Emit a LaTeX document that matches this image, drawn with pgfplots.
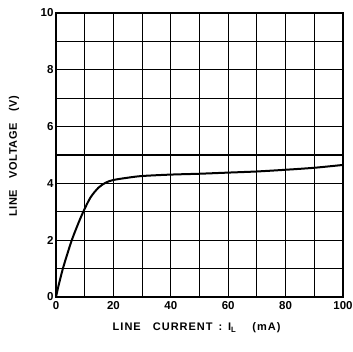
\documentclass[border=0pt]{standalone}
\usepackage{pgfplots}
\pgfplotsset{compat=1.18}
\usepackage{fontspec}
\setmainfont{Liberation Sans}
\begin{document}
\begin{tikzpicture}[x=1pt,y=1pt]
\useasboundingbox (-56,-55) rectangle (297,297);
\begin{axis}[
  at={(0,0)}, anchor=south west,
  scale only axis, width=287pt, height=284pt,
  xmin=0, xmax=100, ymin=0, ymax=10,
  xtick={0,20,...,100}, ytick={0,2,...,10},
  minor xtick={10,30,...,90}, minor ytick={1,3,...,9},
  grid=both,
  major grid style={black, line width=1.1pt},
  minor grid style={black, line width=1.1pt},
  axis line style={black, line width=1.6pt},
  major tick length=0pt, minor tick length=0pt,
  tick label style={font=\fontsize{11.5}{12}\selectfont\bfseries},
  /pgf/number format/assume math mode=true,
  xticklabel style={yshift=-1pt},
  yticklabel style={xshift=1pt},
  xlabel={LINE\ \ \ CURRENT\ \,:\ \,I\textsubscript{L}\ \ \ \ (mA)},
  ylabel={LINE\ \ \ VOLTAGE\ \ \ (V)},
  label style={font=\fontsize{11}{12}\selectfont\bfseries\addfontfeature{LetterSpace=6}},
  xlabel style={font=\fontsize{11}{12}\selectfont\bfseries\addfontfeature{LetterSpace=9}, at={(axis description cs:0.49,-0.109)}, anchor=center},
  ylabel style={at={(axis description cs:-0.146,0.495)}, anchor=center},
]
\addplot[black, line width=2pt, smooth, tension=0.5] coordinates {
(0,0) (1,0.45) (2.4,1) (3.9,1.5) (5.5,2) (7.4,2.5) (9.5,3) (12,3.5) (14.8,3.85) (17.4,4.03) (20,4.12) (25,4.2) (30,4.26) (40,4.31) (50,4.34) (60,4.38) (70,4.42) (80,4.48) (90,4.55) (100,4.65)
};
\end{axis}
\end{tikzpicture}
\end{document}
